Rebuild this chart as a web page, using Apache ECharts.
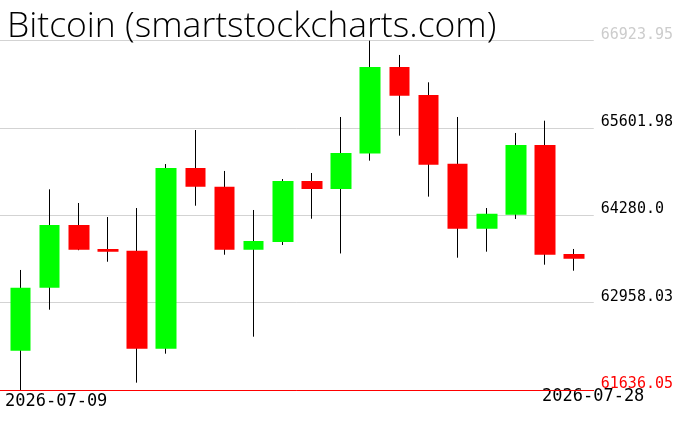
<!DOCTYPE html>
<html>
<head>
<meta charset="utf-8">
<script src="https://cdn.jsdelivr.net/npm/echarts@6/dist/echarts.min.js"></script>
<style>
html,body{margin:0;padding:0;background:#fff;}
#chart{width:676px;height:431px;}
</style>
</head>
<body>
<div id="chart"></div>
<script>
const titleText = 'Bitcoin (smartstockcharts.com)';
const dates = ['2026-07-09','2026-07-10','2026-07-11','2026-07-12','2026-07-13','2026-07-14','2026-07-15','2026-07-16','2026-07-17','2026-07-18','2026-07-19','2026-07-20','2026-07-21','2026-07-22','2026-07-23','2026-07-24','2026-07-25','2026-07-26','2026-07-27','2026-07-28'];
const openV  = [62231, 63185, 64134, 63770, 63745, 62261, 64997, 64714, 63760, 63877, 64800, 64679, 65215, 66526, 66102, 65062, 64078, 64290, 65345, 63695];
const closeV = [63185, 64134, 63760, 63728, 62261, 64997, 64714, 63760, 63892, 64800, 64679, 65224, 66526, 66092, 65047, 64078, 64305, 65345, 63684, 63624];
const lowV   = [61636.05, 62852, 63752, 63578, 61747, 62186, 64426, 63684, 62443, 63831, 64229, 63703, 65108, 65486, 64563, 63639, 63730, 64225, 63533, 63442];
const highV  = [63453, 64674, 64467, 64255, 64391, 65057, 65572, 64952, 64361, 64830, 64921, 65769, 66923.95, 66708, 66294, 65769, 64391, 65527, 65713, 63771];
const yMin = 61636.05;
const yStep = 1321.975;
const yTickLabels = ['61636.05', '62958.03', '64280.0', '65601.98', '66923.95'];

const candles = dates.map((d, i) => [i, openV[i], closeV[i], lowV[i], highV[i]]);
const up = '#00ff00', down = '#ff0000';

const chart = echarts.init(document.getElementById('chart'), null, {renderer: 'canvas'});
chart.setOption({
  animation: false,
  backgroundColor: '#ffffff',
  title: {
    text: titleText,
    left: 2,
    top: 4,
    textStyle: {fontFamily: 'Open Sans', fontWeight: 300, fontSize: 35.5, color: '#000'}
  },
  grid: {left: 0, right: 76, top: 40.7, bottom: 41, containLabel: false},
  xAxis: {
    type: 'value',
    min: -0.703,
    max: 19.67,
    axisLine: {show: true, onZero: false, lineStyle: {color: '#ff0000', width: 1}},
    axisTick: {show: false},
    axisLabel: {show: false},
    splitLine: {show: false}
  },
  yAxis: {
    type: 'value',
    position: 'right',
    min: yMin,
    max: yMin + 4 * yStep,
    interval: yStep,
    axisLine: {show: false},
    axisTick: {show: false},
    splitLine: {show: true, lineStyle: {color: '#d3d3d3', width: 1}},
    axisLabel: {
      margin: 7,
      align: 'left',
      verticalAlign: 'bottom',
      lineHeight: 12,
      fontFamily: 'DejaVu Sans Mono',
      fontSize: 15,
      formatter: (v, i) => yTickLabels[i],
      color: (v, i) => i === 0 ? '#ff0000' : (i === yTickLabels.length - 1 ? '#cccccc' : '#000000')
    }
  },
  graphic: [
    {type: 'text', left: 5, top: 393, style: {text: dates[0], font: '17px "DejaVu Sans Mono"', fill: '#000'}},
    {type: 'text', left: 542, top: 388, style: {text: dates[dates.length - 1], font: '17px "DejaVu Sans Mono"', fill: '#000'}}
  ],
  series: [
    {
      type: 'candlestick',
      data: candles,
      barWidth: 0.5,
      itemStyle: {color: '#000', color0: '#000', borderColor: '#000', borderColor0: '#000', borderWidth: 1},
      z: 2
    },
    {
      type: 'candlestick',
      data: candles,
      barWidth: 21,
      itemStyle: {color: up, color0: down, borderColor: up, borderColor0: down, borderWidth: 0},
      z: 3
    }
  ]
});
</script>
</body>
</html>
